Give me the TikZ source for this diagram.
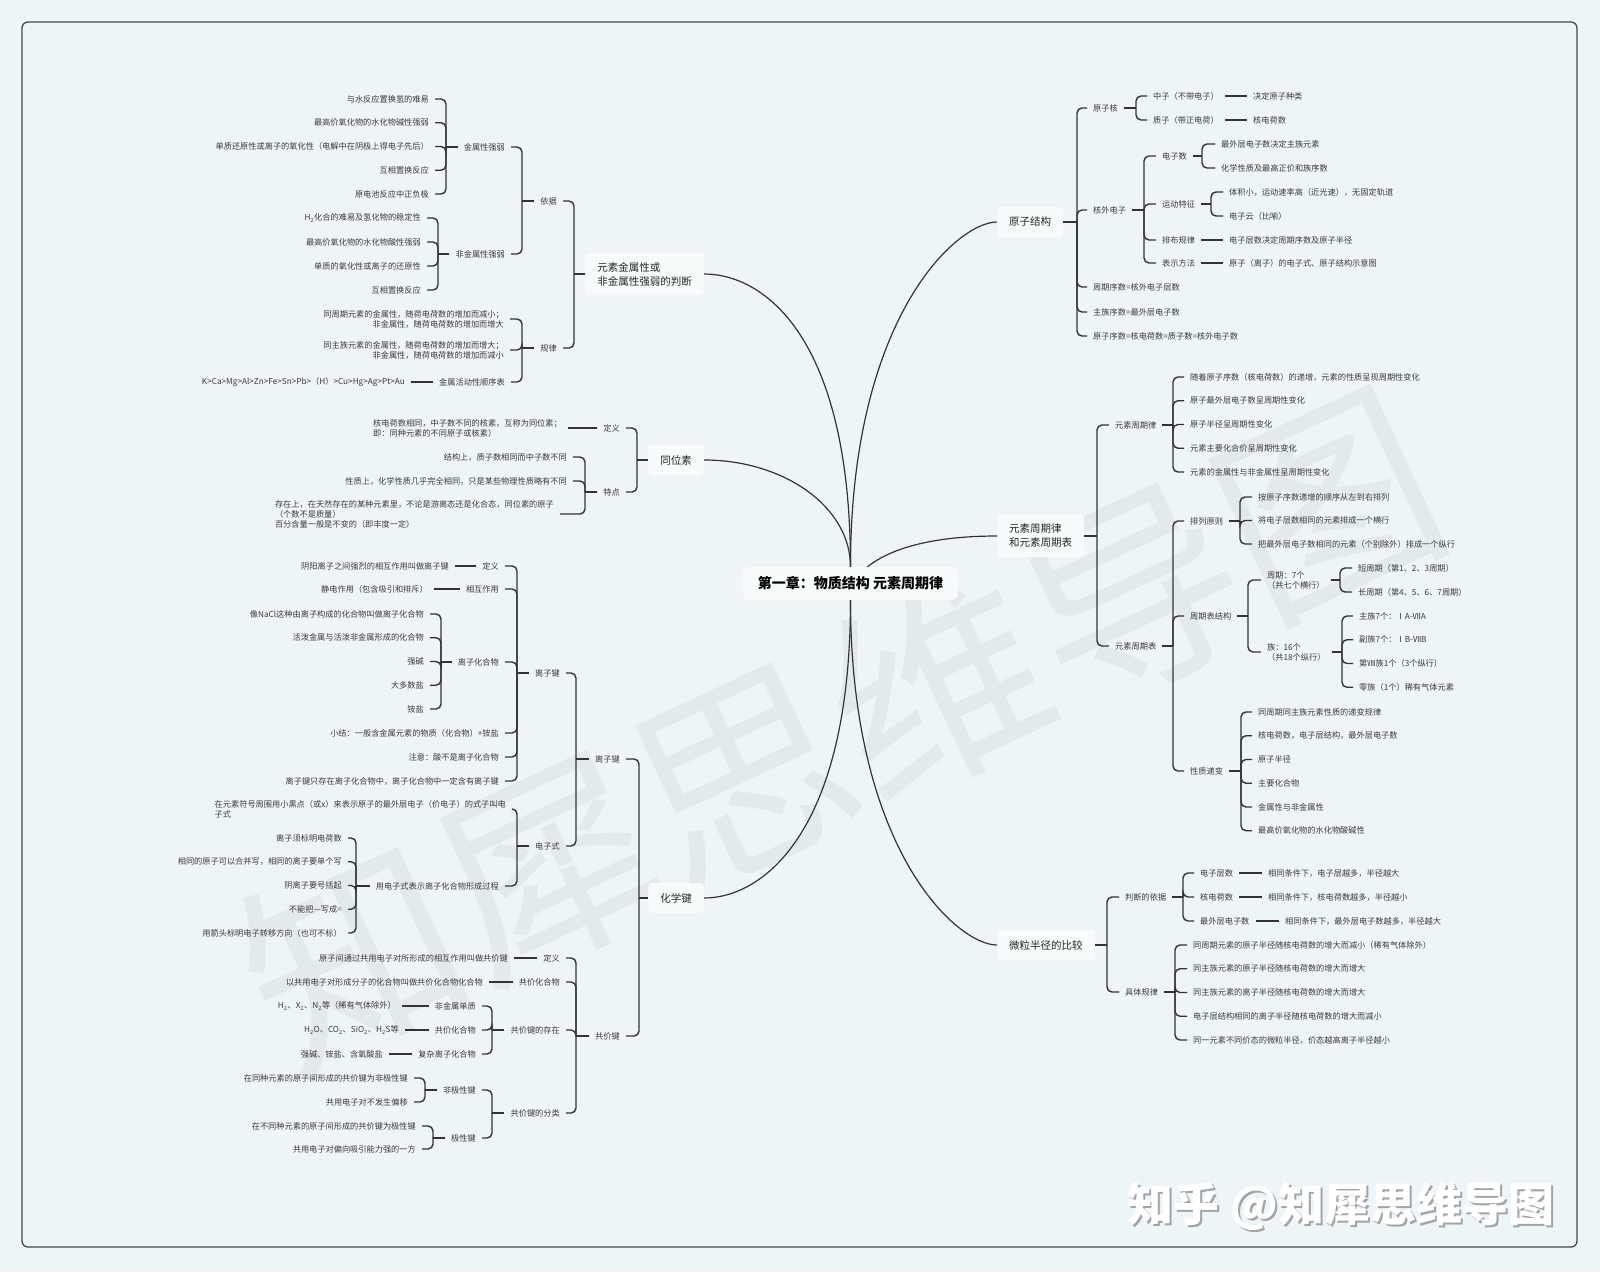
\documentclass[tikz,border=0pt]{standalone}
\usepackage{fontspec}
\setmainfont{Noto Sans CJK SC}
\definecolor{bg}{RGB}{238,245,248}
\definecolor{topicbg}{RGB}{247,251,252}
\definecolor{ln}{RGB}{51,51,51}
\definecolor{txt}{RGB}{58,58,58}
\definecolor{wm}{RGB}{227,234,237}
\definecolor{framecol}{RGB}{70,70,70}
\definecolor{wmshade}{RGB}{160,165,168}
\begin{document}
\begin{tikzpicture}[x=1pt, y=-1pt,
  leaf/.style={font=\fontsize{8.2}{10}\selectfont, text=txt, inner xsep=6pt, inner ysep=2pt},
  ltxt/.style={leaf, anchor=east, align=right},
  rtxt/.style={leaf, anchor=west, align=left},
  topic/.style={font=\fontsize{10.5}{14}\selectfont, text=black!85, fill=topicbg,
    rounded corners=4pt, inner xsep=12pt, minimum height=30pt, align=left},
  root/.style={font=\bfseries\fontsize{14}{16}\selectfont, fill=topicbg,
    rounded corners=5pt, minimum width=215pt, minimum height=33pt},
  link/.style={draw=ln, line width=1.4pt, rounded corners=5pt},
  curve/.style={draw=ln, line width=1.2pt},
]
  \fill[bg] (0,0) rectangle (1600,1272);
  \useasboundingbox (0,0) rectangle (1600,1272);
  \draw[framecol, line width=1.3pt, rounded corners=6pt] (22,22) rectangle (1577,1247);

  % watermarks
  \node[rotate=25, font=\fontsize{215}{215}\selectfont, text=wm] (wmark) at (840,730) {知犀思维导图};
  \node[font=\bfseries\fontsize{46}{46}\selectfont, text=wmshade] (logo-s) at (1343,1208) {知乎 @知犀思维导图};
  \node[font=\bfseries\fontsize{46}{46}\selectfont, text=white] (logo) at (1341,1206) {知乎 @知犀思维导图};

  \node[root] (root) at (850.5,583.5) {第一章：物质结构 元素周期律};

  % ---------- 元素金属性或非金属性强弱的判断 ----------
  \node[topic, anchor=east, minimum height=42pt] (metal) at (704,274) {元素金属性或\\非金属性强弱的判断};
  \node[ltxt] (basis) at (563,201) {依据};
  \node[ltxt] (rule) at (563,348) {规律};
  \coordinate (metal-j) at (574,274);
  \draw[link] (metal.west) -- (metal-j);
  \foreach \nm in {basis,rule} \draw[link] (metal-j) |- (\nm.east);

  \node[ltxt] (mstr) at (511,147) {金属性强弱};
  \node[ltxt] (nstr) at (511,254) {非金属性强弱};
  \coordinate (basis-j) at (522,201);
  \draw[link] (basis.west) -- (basis-j);
  \foreach \nm in {mstr,nstr} \draw[link] (basis-j) |- (\nm.east);

  \foreach \lab [count=\i] in {与水反应置换氢的难易,
      最高价氧化物的水化物碱性强弱,
      单质还原性或离子的氧化性（电解中在阴极上得电子先后）,
      互相置换反应,
      原电池反应中正负极}
    \node[ltxt] (mstr\i) at (435,75.25+23.75*\i) {\lab};
  \coordinate (mstr-j) at (446,147);
  \draw[link] (mstr.west) -- (mstr-j);
  \foreach \i in {1,...,5} \draw[link] (mstr-j) |- (mstr\i.east);

  \foreach \lab [count=\i] in {{H\textsubscript{2}化合的难易及氢化物的稳定性},
      最高价氧化物的水化物酸性强弱,
      单质的氧化性或离子的还原性,
      互相置换反应}
    \node[ltxt] (nstr\i) at (427,194+24*\i) {\lab};
  \coordinate (nstr-j) at (438,254);
  \draw[link] (nstr.west) -- (nstr-j);
  \foreach \i in {1,...,4} \draw[link] (nstr-j) |- (nstr\i.east);

  \node[ltxt] (rule1) at (510,319) {同周期元素的金属性，随荷电荷数的增加而减小；\\非金属性，随荷电荷数的增加而增大};
  \node[ltxt] (rule2) at (510,350) {同主族元素的金属性，随荷电荷数的增加而增大；\\非金属性，随荷电荷数的增加而减小};
  \node[ltxt] (order) at (511,382) {金属活动性顺序表};
  \node[ltxt] (order1) at (411,382) {K>Ca>Mg>Al>Zn>Fe>Sn>Pb>（H）>Cu>Hg>Ag>Pt>Au};
  \coordinate (rule-j) at (522,348);
  \draw[link] (rule.west) -- (rule-j);
  \foreach \nm in {rule1,rule2,order} \draw[link] (rule-j) |- (\nm.east);
  \draw[link] (order.west) -- (order1.east);

  % ---------- 同位素 ----------
  \node[topic, anchor=east] (iso) at (704,460) {同位素};
  \node[ltxt] (isodef) at (626,428) {定义};
  \node[ltxt] (isofeat) at (626,492) {特点};
  \coordinate (iso-j) at (637,460);
  \draw[link] (iso.west) -- (iso-j);
  \foreach \nm in {isodef,isofeat} \draw[link] (iso-j) |- (\nm.east);
  \node[ltxt, align=left] (isodef1) at (568,428) {核电荷数相同，中子数不同的核素，互称为同位素；\\即：同种元素的不同原子或核素）};
  \draw[link] (isodef.west) -- (isodef1.east);
  \node[ltxt] (feat1) at (573,457) {结构上，质子数相同而中子数不同};
  \node[ltxt] (feat2) at (573,481) {性质上，化学性质几乎完全相同，只是某些物理性质略有不同};
  \node[ltxt, align=left] (feat3) at (560,514) {存在上，在天然存在的某种元素里，不论是游离态还是化合态，同位素的原子\\（个数不是质量）\\百分含量一般是不变的（即丰度一定）};
  \coordinate (feat-j) at (585,492);
  \draw[link] (isofeat.west) -- (feat-j);
  \foreach \nm in {feat1,feat2,feat3} \draw[link] (feat-j) |- (\nm.east);

  % ---------- 化学键 ----------
  \node[topic, anchor=east] (bond) at (704,898) {化学键};
  \node[ltxt] (ionic) at (626,759) {离子键};
  \node[ltxt] (coval) at (626,1036) {共价键};
  \coordinate (bond-j) at (639,898);
  \draw[link] (bond.west) -- (bond-j);
  \foreach \nm in {ionic,coval} \draw[link] (bond-j) |- (\nm.east);

  \node[ltxt] (ionb) at (566,673) {离子键};
  \node[ltxt] (efm) at (566,846) {电子式};
  \coordinate (ionic-j) at (576,759);
  \draw[link] (ionic.west) -- (ionic-j);
  \foreach \nm in {ionb,efm} \draw[link] (ionic-j) |- (\nm.east);

  \node[ltxt] (ibdef) at (505,566) {定义};
  \node[ltxt] (ibdef1) at (455,566) {阴阳离子之间强烈的相互作用叫做离子键};
  \node[ltxt] (ibact) at (505,589) {相互作用};
  \node[ltxt] (ibact1) at (434,589) {静电作用（包含吸引和排斥）};
  \node[ltxt] (ibcpd) at (505,662) {离子化合物};
  \node[ltxt] (ibsum) at (505,733) {小结：一般含金属元素的物质（化合物）+铵盐};
  \node[ltxt] (ibnote) at (505,757) {注意：酸不是离子化合物};
  \node[ltxt] (ibonly) at (505,781) {离子键只存在离子化合物中，离子化合物中一定含有离子键};
  \coordinate (ionb-j) at (517,673);
  \draw[link] (ionb.west) -- (ionb-j);
  \foreach \nm in {ibdef,ibact,ibcpd,ibsum,ibnote,ibonly} \draw[link] (ionb-j) |- (\nm.east);
  \draw[link] (ibdef.west) -- (ibdef1.east);
  \draw[link] (ibact.west) -- (ibact1.east);

  \foreach \lab [count=\i] in {像NaCl这种由离子构成的化合物叫做离子化合物,
      活泼金属与活泼非金属形成的化合物,
      强碱,
      大多数盐,
      铵盐}
    \node[ltxt] (cpd\i) at (430,590.25+23.75*\i) {\lab};
  \coordinate (cpd-j) at (441,662);
  \draw[link] (ibcpd.west) -- (cpd-j);
  \foreach \i in {1,...,5} \draw[link] (cpd-j) |- (cpd\i.east);

  \node[ltxt, align=left] (efmdef) at (512,809) {在元素符号周围用小黑点（或x）来表示原子的最外层电子（价电子）的式子叫电\\子式};
  \node[ltxt] (proc) at (505,886) {用电子式表示离子化合物形成过程};
  \coordinate (efm-j) at (517,846);
  \draw[link] (efm.west) -- (efm-j);
  \foreach \nm in {efmdef,proc} \draw[link] (efm-j) |- (\nm.east);

  \foreach \lab [count=\i] in {离子须标明电荷数,
      相同的原子可以合并写，相同的离子要单个写,
      阴离子要号括起,
      不能把—写成=,
      用箭头标明电子转移方向（也可不标）}
    \node[ltxt] (proc\i) at (348,814.25+23.75*\i) {\lab};
  \coordinate (proc-j) at (356,886);
  \draw[link] (proc.west) -- (proc-j);
  \foreach \i in {1,...,5} \draw[link] (proc-j) |- (proc\i.east);

  \node[ltxt] (cvdef) at (566,958) {定义};
  \node[ltxt] (cvdef1) at (514,958) {原子间通过共用电子对所形成的相互作用叫做共价键};
  \node[ltxt] (cvcpd) at (566,982) {共价化合物};
  \node[ltxt] (cvcpd1) at (489,982) {以共用电子对形成分子的化合物叫做共价化合物化合物};
  \node[ltxt] (cvex) at (566,1030) {共价键的存在};
  \node[ltxt] (cvcls) at (566,1113) {共价键的分类};
  \coordinate (coval-j) at (576,1036);
  \draw[link] (coval.west) -- (coval-j);
  \foreach \nm in {cvdef,cvcpd,cvex,cvcls} \draw[link] (coval-j) |- (\nm.east);
  \draw[link] (cvdef.west) -- (cvdef1.east);
  \draw[link] (cvcpd.west) -- (cvcpd1.east);

  \node[ltxt] (ex1) at (482,1006) {非金属单质};
  \node[ltxt] (ex1a) at (402,1006) {H\textsubscript{2}、X\textsubscript{2}、N\textsubscript{2}等（稀有气体除外）};
  \node[ltxt] (ex2) at (482,1030) {共价化合物};
  \node[ltxt] (ex2a) at (405,1030) {H\textsubscript{2}O、CO\textsubscript{2}、SiO\textsubscript{2}、H\textsubscript{2}S等};
  \node[ltxt] (ex3) at (482,1054) {复杂离子化合物};
  \node[ltxt] (ex3a) at (389,1054) {强碱、铵盐、含氧酸盐};
  \coordinate (cvex-j) at (492,1030);
  \draw[link] (cvex.west) -- (cvex-j);
  \foreach \i in {1,2,3} {
    \draw[link] (cvex-j) |- (ex\i.east);
    \draw[link] (ex\i.west) -- (ex\i a.east);
  }

  \node[ltxt] (npol) at (482,1090) {非极性键};
  \node[ltxt] (pol) at (482,1138) {极性键};
  \coordinate (cvcls-j) at (492,1113);
  \draw[link] (cvcls.west) -- (cvcls-j);
  \foreach \nm in {npol,pol} \draw[link] (cvcls-j) |- (\nm.east);
  \node[ltxt] (npol1) at (414,1078) {在同种元素的原子间形成的共价键为非极性键};
  \node[ltxt] (npol2) at (414,1102) {共用电子对不发生偏移};
  \node[ltxt] (pol1) at (422,1126) {在不同种元素的原子间形成的共价键为极性键};
  \node[ltxt] (pol2) at (422,1149) {共用电子对偏向吸引能力强的一方};
  \coordinate (npol-j) at (425,1090);
  \coordinate (pol-j) at (433,1138);
  \draw[link] (npol.west) -- (npol-j);
  \draw[link] (pol.west) -- (pol-j);
  \foreach \i in {1,2} {
    \draw[link] (npol-j) |- (npol\i.east);
    \draw[link] (pol-j) |- (pol\i.east);
  }

  % ---------- 原子结构 ----------
  \node[topic, anchor=west] (atom) at (997,222) {原子结构};
  \node[rtxt] (nucl) at (1087,108) {原子核};
  \node[rtxt] (shell) at (1087,210) {核外电子};
  \node[rtxt] (atom5) at (1087,287) {周期序数=核外电子层数};
  \node[rtxt] (atom6) at (1087,312) {主族序数=最外层电子数};
  \node[rtxt] (atom7) at (1087,336) {原子序数=核电荷数=质子数=核外电子数};
  \coordinate (atom-j) at (1077,222);
  \draw[link] (atom.east) -- (atom-j);
  \foreach \nm in {nucl,shell,atom5,atom6,atom7} \draw[link] (atom-j) |- (\nm.west);

  \node[rtxt] (neutr) at (1147,96) {中子（不带电子）};
  \node[rtxt] (neutr1) at (1247,96) {决定原子种类};
  \node[rtxt] (proto) at (1147,120) {质子（带正电荷）};
  \node[rtxt] (proto1) at (1247,120) {核电荷数};
  \coordinate (nucl-j) at (1136,108);
  \draw[link] (nucl.east) -- (nucl-j);
  \foreach \nm in {neutr,proto} {
    \draw[link] (nucl-j) |- (\nm.west);
    \draw[link] (\nm.east) -- (\nm 1.west);
  }

  \node[rtxt] (ecnt) at (1156,156) {电子数};
  \node[rtxt] (motion) at (1156,204) {运动特征};
  \node[rtxt] (arrange) at (1156,240) {排布规律};
  \node[rtxt] (notat) at (1156,263) {表示方法};
  \coordinate (shell-j) at (1144,210);
  \draw[link] (shell.east) -- (shell-j);
  \foreach \nm in {ecnt,motion,arrange,notat} \draw[link] (shell-j) |- (\nm.west);

  \node[rtxt] (ecnt1) at (1215,144) {最外层电子数决定主族元素};
  \node[rtxt] (ecnt2) at (1215,168) {化学性质及最高正价和族序数};
  \coordinate (ecnt-j) at (1202,156);
  \draw[link] (ecnt.east) -- (ecnt-j);
  \foreach \i in {1,2} \draw[link] (ecnt-j) |- (ecnt\i.west);
  \node[rtxt] (motion1) at (1223,192) {体积小，运动速率高（近光速），无固定轨道};
  \node[rtxt] (motion2) at (1223,216) {电子云（比喻）};
  \coordinate (motion-j) at (1211,204);
  \draw[link] (motion.east) -- (motion-j);
  \foreach \i in {1,2} \draw[link] (motion-j) |- (motion\i.west);
  \node[rtxt] (arrange1) at (1223,240) {电子层数决定周期序数及原子半径};
  \node[rtxt] (notat1) at (1223,263) {原子（离子）的电子式、原子结构示意图};
  \draw[link] (arrange.east) -- (arrange1.west);
  \draw[link] (notat.east) -- (notat1.west);

  % ---------- 元素周期律和元素周期表 ----------
  \node[topic, anchor=west, minimum height=42pt] (law) at (997,536) {元素周期律\\和元素周期表};
  \node[rtxt] (plaw) at (1109,425) {元素周期律};
  \node[rtxt] (ptab) at (1109,646) {元素周期表};
  \coordinate (law-j) at (1097,536);
  \draw[link] (law.east) -- (law-j);
  \foreach \nm in {plaw,ptab} \draw[link] (law-j) |- (\nm.west);

  \foreach \lab [count=\i] in {随着原子序数（核电荷数）的递增，元素的性质呈现周期性变化,
      原子最外层电子数呈周期性变化,
      原子半径呈周期性变化,
      元素主要化合价呈周期性变化,
      元素的金属性与非金属性呈周期性变化}
    \node[rtxt] (plaw\i) at (1184,353.25+23.75*\i) {\lab};
  \coordinate (plaw-j) at (1173,425);
  \draw[link] (plaw.east) -- (plaw-j);
  \foreach \i in {1,...,5} \draw[link] (plaw-j) |- (plaw\i.west);

  \node[rtxt] (arr) at (1184,521) {排列原则};
  \node[rtxt] (struct) at (1184,616) {周期表结构};
  \node[rtxt] (trend) at (1184,771) {性质递变};
  \coordinate (ptab-j) at (1173,646);
  \draw[link] (ptab.east) -- (ptab-j);
  \foreach \nm in {arr,struct,trend} \draw[link] (ptab-j) |- (\nm.west);

  \foreach \lab [count=\i] in {按原子序数递增的顺序从左到右排列,
      将电子层数相同的元素排成一个横行,
      把最外层电子数相同的元素（个别除外）排成一个纵行}
    \node[rtxt] (arr\i) at (1252,473.5+23.5*\i) {\lab};
  \coordinate (arr-j) at (1240,521);
  \draw[link] (arr.east) -- (arr-j);
  \foreach \i in {1,2,3} \draw[link] (arr-j) |- (arr\i.west);

  \node[rtxt] (period) at (1261,580) {周期：7个\\（共七个横行）};
  \node[rtxt] (group) at (1261,652) {族：16个\\（共18个纵行）};
  \coordinate (struct-j) at (1248,616);
  \draw[link] (struct.east) -- (struct-j);
  \foreach \nm in {period,group} \draw[link] (struct-j) |- (\nm.west);

  \node[rtxt] (period1) at (1352,568) {短周期（第1、2、3周期）};
  \node[rtxt] (period2) at (1352,592) {长周期（第4、5、6、7周期）};
  \coordinate (period-j) at (1340,580);
  \draw[link] (period.east) -- (period-j);
  \foreach \i in {1,2} \draw[link] (period-j) |- (period\i.west);

  \foreach \lab [count=\i] in {主族7个：ⅠA-ⅦA,
      副族7个：ⅠB-ⅦB,
      第Ⅷ族1个（3个纵行）,
      零族（1个）稀有气体元素}
    \node[rtxt] (group\i) at (1353,592.25+23.75*\i) {\lab};
  \coordinate (group-j) at (1342,652);
  \draw[link] (group.east) -- (group-j);
  \foreach \i in {1,...,4} \draw[link] (group-j) |- (group\i.west);

  \foreach \lab [count=\i] in {同周期同主族元素性质的递变规律,
      核电荷数，电子层结构，最外层电子数,
      原子半径,
      主要化合物,
      金属性与非金属性,
      最高价氧化物的水化物酸碱性}
    \node[rtxt] (trend\i) at (1252,688.25+23.75*\i) {\lab};
  \coordinate (trend-j) at (1241,771);
  \draw[link] (trend.east) -- (trend-j);
  \foreach \i in {1,...,6} \draw[link] (trend-j) |- (trend\i.west);

  % ---------- 微粒半径的比较 ----------
  \node[topic, anchor=west] (radius) at (997,945) {微粒半径的比较};
  \node[rtxt] (judge) at (1119,897) {判断的依据};
  \node[rtxt] (rules) at (1119,992) {具体规律};
  \coordinate (radius-j) at (1107,945);
  \draw[link] (radius.east) -- (radius-j);
  \foreach \nm in {judge,rules} \draw[link] (radius-j) |- (\nm.west);

  \node[rtxt] (jd1) at (1194,873) {电子层数};
  \node[rtxt] (jd1a) at (1262,873) {相同条件下，电子层越多，半径越大};
  \node[rtxt] (jd2) at (1194,897) {核电荷数};
  \node[rtxt] (jd2a) at (1262,897) {相同条件下，核电荷数越多，半径越小};
  \node[rtxt] (jd3) at (1194,921) {最外层电子数};
  \node[rtxt] (jd3a) at (1279,921) {相同条件下，最外层电子数越多，半径越大};
  \coordinate (judge-j) at (1183,897);
  \draw[link] (judge.east) -- (judge-j);
  \foreach \i in {1,2,3} {
    \draw[link] (judge-j) |- (jd\i.west);
    \draw[link] (jd\i.east) -- (jd\i a.west);
  }

  \foreach \lab [count=\i] in {同周期元素的原子半径随核电荷数的增大而减小（稀有气体除外）,
      同主族元素的原子半径随核电荷数的增大而增大,
      同主族元素的离子半径随核电荷数的增大而增大,
      电子层结构相同的离子半径随核电荷数的增大而减小,
      同一元素不同价态的微粒半径，价态越高离子半径越小}
    \node[rtxt] (rules\i) at (1187,921.25+23.75*\i) {\lab};
  \coordinate (rules-j) at (1175,992);
  \draw[link] (rules.east) -- (rules-j);
  \foreach \i in {1,...,5} \draw[link] (rules-j) |- (rules\i.west);

  % ---------- 主干曲线 ----------
  \draw[curve] (root.north) .. controls +(0,-230) and +(60,0) .. (metal.east);
  \draw[curve] (root.north) .. controls +(0,-60) and +(80,0) .. (iso.east);
  \draw[curve] (root.south) .. controls +(0,230) and +(60,0) .. (bond.east);
  \draw[curve] (root.north) .. controls +(0,-250) and +(-40,0) .. (atom.west);
  \draw[curve] ([xshift=17pt]root.north) .. controls +(25,-20) and +(-60,0) .. (law.west);
  \draw[curve] (root.south) .. controls +(0,250) and +(-40,0) .. (radius.west);
\end{tikzpicture}
\end{document}
